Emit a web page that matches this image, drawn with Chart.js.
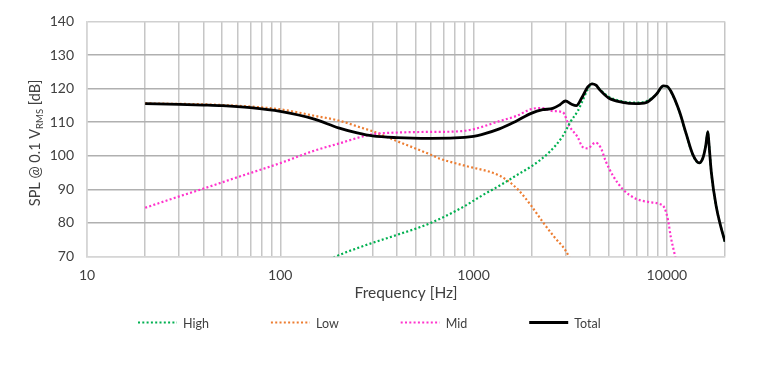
<!DOCTYPE html>
<html>
<head>
<meta charset="utf-8">
<script src="https://cdn.jsdelivr.net/npm/chart.js@4/dist/chart.umd.min.js"></script>
<style>
  html, body { margin: 0; padding: 0; background: #ffffff; }
  #wrap { width: 764px; height: 374px; }
</style>
</head>
<body>
<div id="wrap"><canvas id="c" width="764" height="374"></canvas></div>
<script>
// ---- Data ----
const xTickValues = [10,20,30,40,50,60,70,80,90,100,200,300,400,500,600,700,800,900,1000,2000,3000,4000,5000,6000,7000,8000,9000,10000,20000];
const xTickLabels = ['10','100','1000','10000'];
const yTickLabels = ['70','80','90','100','110','120','130','140'];

const highFreq = [180,194,278,400,590,880,1110,1410,1660,2010,2460,2890,3190,3460,3655,3900,4100,4300,4500,5000,5900,6900,7800,8800,9600,10000,10500,11600,12600,13600,14700,15400,15900,16300,16500,17000,18000,19000,20000];
const highSPL  = [69,70,73.4,76.4,79.8,84.7,88.2,91.6,94.1,97,101,105.8,110.3,113.3,116.2,119.8,121.4,121,119.8,117.6,116.2,115.8,116.2,118.2,120.7,120.6,119.1,113.2,106.4,100.4,97.8,99.4,102.9,107.1,104,95,85,79,74.4];

const lowFreq = [20,50,100,153,200,258,300,400,590,680,880,1000,1200,1360,1540,1720,2000,2280,2610,3000,3300];
const lowSPL  = [115.6,115.1,113.8,111.8,110.5,108.5,107.3,104.4,100.5,99,97.2,96.4,95.3,94.1,92.1,89.6,84.9,80.3,75.9,71.7,67];

const midFreq = [20,30,40,60,100,150,200,300,400,600,800,1000,1360,1660,2020,2280,2570,2890,3130,3460,3655,3890,4270,4550,4820,5260,5950,6920,8100,9100,9720,10150,10480,11000,11500];
const midSPL  = [84.5,87.9,90.2,93.6,97.8,101.5,103.6,106.4,106.9,107.1,107.2,107.9,110.3,111.8,114,114.2,113.3,113,108.8,105.5,102.7,102.2,103.9,102.4,98.5,94.1,89.9,87.2,86.2,85.7,84.5,80.8,75.9,70.5,66];

const totalFreq = [20,30,40,50,70,100,150,200,250,300,400,600,800,1000,1100,1360,1660,2000,2280,2570,2800,2990,3200,3400,3650,3900,4100,4300,4500,5000,5900,6900,7800,8800,9600,10000,10500,11600,12600,13600,14700,15400,15900,16300,16500,17000,18000,19000,20000];
const totalSPL  = [115.5,115.3,115.1,114.9,114.3,113.2,110.9,108.3,106.8,105.9,105.4,105.2,105.3,105.8,106.3,108,110.3,112.7,113.7,114.1,115.2,116.3,115.4,114.9,117.5,120.5,121.4,121,119.6,117.2,115.9,115.5,115.8,118.2,120.8,120.7,119.2,113.3,106.5,100.5,97.9,99.5,103,107.2,104,95,85,79,74.4];

const seriesNames = ['High','Low','Mid','Total'];

function pts(f, v) { return f.map((x, i) => ({x: x, y: v[i]})); }

const FONT = 'Lato';
const TEXT = '#404040';

// Custom y-axis title with subscript
const yTitlePlugin = {
  id: 'yTitle',
  afterDraw(chart) {
    const ctx = chart.ctx;
    const ca = chart.chartArea;
    const cy = (ca.top + ca.bottom) / 2 + 4;
    ctx.save();
    ctx.translate(34, cy);
    ctx.rotate(-Math.PI / 2);
    ctx.fillStyle = TEXT;
    ctx.textBaseline = 'alphabetic';
    const big = '14.5px ' + FONT, small = '9.5px ' + FONT;
    const p1 = 'SPL @ 0.1 V', p2 = 'RMS', p3 = ' [dB]';
    ctx.font = big; const w1 = ctx.measureText(p1).width; const w3 = ctx.measureText(p3).width;
    ctx.font = small; const w2 = ctx.measureText(p2).width;
    let x = -(w1 + w2 + w3) / 2;
    const base = 5.5;
    ctx.font = big; ctx.fillText(p1, x, base); x += w1;
    ctx.font = small; ctx.fillText(p2, x, base + 3); x += w2;
    ctx.font = big; ctx.fillText(p3, x, base);
    ctx.restore();
  }
};

// Custom legend (line samples + labels)
const legendPlugin = {
  id: 'customLegend',
  afterDraw(chart) {
    const ctx = chart.ctx;
    const y = chart.chartArea.bottom + 66;
    let x = 138;
    ctx.save();
    ctx.font = '12.5px ' + FONT;
    ctx.textBaseline = 'middle';
    ctx.textAlign = 'left';
    chart.data.datasets.forEach(ds => {
      ctx.strokeStyle = ds.borderColor;
      ctx.lineWidth = ds.borderWidth;
      ctx.lineCap = 'butt';
      ctx.setLineDash(ds.borderDash || []);
      ctx.beginPath(); ctx.moveTo(x, y); ctx.lineTo(x + 39, y); ctx.stroke();
      ctx.setLineDash([]);
      ctx.fillStyle = TEXT;
      ctx.fillText(ds.label, x + 45, y + 1);
      x += 45 + ctx.measureText(ds.label).width + 62;
    });
    ctx.restore();
  }
};

const dotted = [2, 2.3];

new Chart(document.getElementById('c'), {
  type: 'line',
  data: {
    datasets: [
      { label: seriesNames[0], data: pts(highFreq, highSPL), borderColor: '#00B050', borderWidth: 2.2, borderDash: dotted, pointRadius: 0, cubicInterpolationMode: 'monotone', order: 1 },
      { label: seriesNames[1], data: pts(lowFreq, lowSPL), borderColor: '#ED7D31', borderWidth: 2.2, borderDash: dotted, pointRadius: 0, cubicInterpolationMode: 'monotone', order: 2 },
      { label: seriesNames[2], data: pts(midFreq, midSPL), borderColor: '#FF33CC', borderWidth: 2.2, borderDash: dotted, pointRadius: 0, cubicInterpolationMode: 'monotone', order: 1 },
      { label: seriesNames[3], data: pts(totalFreq, totalSPL), borderColor: '#000000', borderWidth: 2.8, pointRadius: 0, cubicInterpolationMode: 'monotone', order: 0 }
    ]
  },
  options: {
    responsive: false,
    animation: false,
    events: [],
    layout: { padding: { top: 19.5, right: 39, bottom: 71.5, left: 0 } },
    plugins: { legend: { display: false }, tooltip: { enabled: false } },
    scales: {
      x: {
        type: 'logarithmic',
        min: 10, max: 20000,
        afterBuildTicks(scale) { scale.ticks = xTickValues.map(v => ({ value: v })); },
        afterFit(scale) { scale.height = 46; },
        ticks: {
          autoSkip: false, maxRotation: 0, padding: 11,
          color: TEXT, font: { family: FONT, size: 14 },
          callback(v) { const s = String(v); return xTickLabels.includes(s) ? s : ''; }
        },
        grid: { color: '#c6c6c6', lineWidth: 1.5, drawTicks: false },
        border: { display: true, color: '#d6d6d6', width: 1.5 },
        title: { display: true, text: 'Frequency [Hz]', color: TEXT, font: { family: FONT, size: 15.5 }, padding: { top: 0, bottom: 0 } }
      },
      y: {
        min: 70, max: 140,
        afterFit(scale) { scale.width = 87; },
        ticks: {
          stepSize: 5, padding: 13,
          color: TEXT, font: { family: FONT, size: 14 },
          callback(v) { const s = String(v); return yTickLabels.includes(s) ? s : ''; }
        },
        grid: {
          drawTicks: false, lineWidth: 1.5,
          color(c) {
            const v = c.tick && c.tick.value;
            if (v === 70 || v === 140) return '#d0d0d0';
            return (v % 10 === 0) ? '#b0b0b0' : '#eeeeee';
          }
        },
        border: { display: true, color: '#d6d6d6', width: 1.5 }
      }
    }
  },
  plugins: [yTitlePlugin, legendPlugin]
});
</script>
</body>
</html>
